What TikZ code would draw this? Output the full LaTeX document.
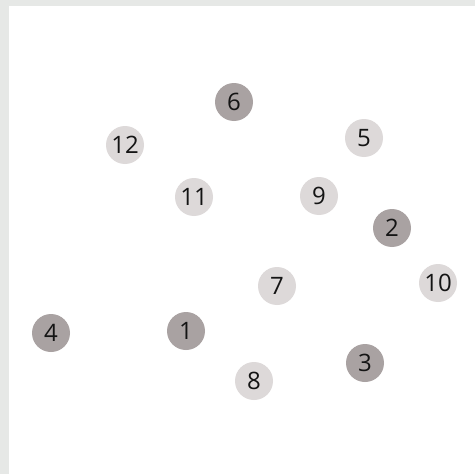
\documentclass[tikz,border=0pt]{standalone}
\usepackage{fontspec}
\setmainfont{Open Sans}
\definecolor{framegray}{HTML}{E6E8E6}
\definecolor{darkdot}{HTML}{A9A2A2}
\definecolor{lightdot}{HTML}{DDD9D9}
\definecolor{numtext}{HTML}{141414}
\begin{document}
\begin{tikzpicture}[x=1pt,y=-1pt,
  dot/.style={circle,minimum size=38pt,inner sep=0pt,text=numtext,font=\fontsize{24}{26}\selectfont},
  darkd/.style={dot,fill=darkdot},
  lightd/.style={dot,fill=lightdot}]
\useasboundingbox (0,0) rectangle (475,474);
\fill[framegray] (0,0) rectangle (475,474);
\fill[white] (9,6) rectangle (475,474);
\node[darkd]  (n6)  at (234,102) {6};
\node[lightd] (n12) at (125,145) {12};
\node[lightd] (n5)  at (364,138) {5};
\node[lightd] (n11) at (194,197) {11};
\node[lightd] (n9)  at (319,196) {9};
\node[darkd]  (n2)  at (392,228) {2};
\node[lightd] (n10) at (438,283) {10};
\node[lightd] (n7)  at (277,286) {7};
\node[darkd]  (n4)  at (51,333) {4};
\node[darkd]  (n1)  at (186,331) {1};
\node[darkd]  (n3)  at (365,363) {3};
\node[lightd] (n8)  at (254,381) {8};
\end{tikzpicture}
\end{document}
